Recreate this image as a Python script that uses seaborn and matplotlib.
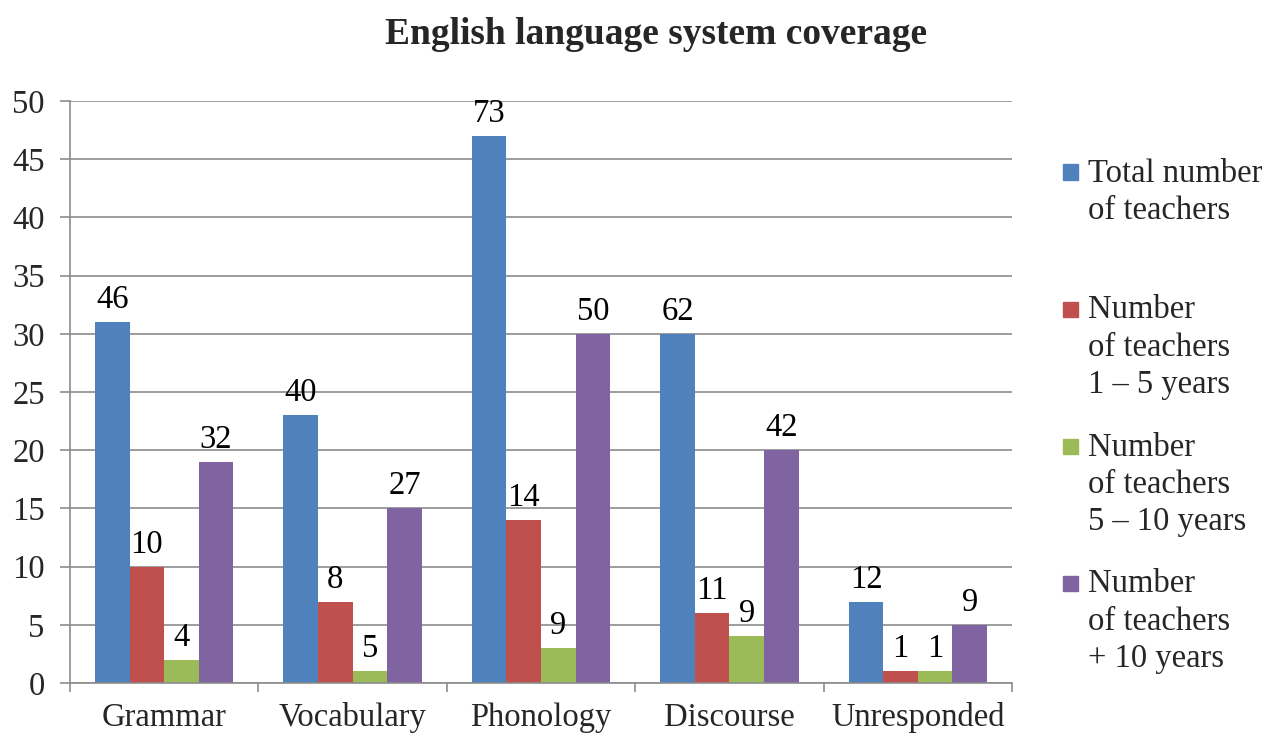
import matplotlib
matplotlib.use("Agg")
import matplotlib.pyplot as plt
import seaborn as sns
import pandas as pd
from matplotlib.patches import Rectangle

categories = ["Grammar", "Vocabulary", "Phonology", "Discourse", "Unresponded"]
series = ["Total number\nof teachers",
          "Number\nof teachers\n1 – 5 years",
          "Number\nof teachers\n5 – 10 years",
          "Number\nof teachers\n+ 10 years"]
total_heights = [31, 23, 47, 30, 7]
yrs_1_5_heights = [10, 7, 14, 6, 1]
yrs_5_10_heights = [2, 1, 3, 4, 1]
yrs_10_plus_heights = [19, 15, 30, 20, 5]
total_labels = [46, 40, 73, 62, 12]
yrs_1_5_labels = [10, 8, 14, 11, 1]
yrs_5_10_labels = [4, 5, 9, 9, 1]
yrs_10_plus_labels = [32, 27, 50, 42, 9]
colors = ["#4F81BD", "#C0504D", "#9BBB59", "#8064A2"]
y_ticks = list(range(0, 55, 5))
title = "English language system coverage"

heights = [total_heights, yrs_1_5_heights, yrs_5_10_heights, yrs_10_plus_heights]
labels = [total_labels, yrs_1_5_labels, yrs_5_10_labels, yrs_10_plus_labels]

rows = []
for s, vals in zip(series, heights):
    for c, v in zip(categories, vals):
        rows.append({"category": c, "series": s, "value": v})
df = pd.DataFrame(rows)

sns.set_style("white")
plt.rcParams["font.family"] = ["Liberation Serif", "DejaVu Serif"]

FS = 23.5
W, H = 1263, 734
fig = plt.figure(figsize=(W / 100, H / 100), dpi=100)
ax = fig.add_axes([70 / W, 1 - 683 / H, (1012 - 70) / W, (683 - 101) / H])

sns.barplot(data=df, x="category", y="value", hue="series", order=categories,
            hue_order=series, palette=colors, saturation=1, width=0.734,
            legend=False, ax=ax, linewidth=0)

for cont, labs in zip(ax.containers, labels):
    ax.bar_label(cont, labels=[str(v) for v in labs], padding=5, fontsize=FS,
                 color="black")

grid_c = "#8c8c8c"
ax.set_ylim(0, 50)
ax.set_xlim(-0.5, len(categories) - 0.5)
ax.set_yticks(y_ticks)
ax.yaxis.grid(True, color=grid_c, linewidth=1.2)
ax.xaxis.grid(False)
ax.set_axisbelow(True)
ax.set_xlabel("")
ax.set_ylabel("")
for side in ["top", "right"]:
    ax.spines[side].set_visible(False)
for side in ["left", "bottom"]:
    ax.spines[side].set_color(grid_c)
    ax.spines[side].set_linewidth(1.2)

ax.tick_params(axis="y", length=7.2, width=1.2, color=grid_c, pad=11,
               labelsize=FS, left=True)
ax.tick_params(axis="x", which="major", length=0, pad=14, labelsize=FS)
ax.set_xticks([i - 0.5 for i in range(len(categories) + 1)], minor=True)
ax.tick_params(axis="x", which="minor", length=6.5, width=1.2, color=grid_c,
               bottom=True, direction="out")

fig.text(656 / W, 1 - 35 / H, title, ha="center", va="center",
         fontsize=27, fontweight="bold")

for i, (name, col) in enumerate(zip(series, colors)):
    yc = 172 + 137 * i
    fig.patches.append(Rectangle((1063 / W, 1 - (yc + 7.5) / H), 15 / W, 15 / H,
                                 transform=fig.transFigure, color=col))
    fig.text(1088 / W, 1 - (yc - 14) / H, name, ha="left", va="top",
             fontsize=FS, linespacing=1.28)

fig.savefig("out.png", dpi=100)
